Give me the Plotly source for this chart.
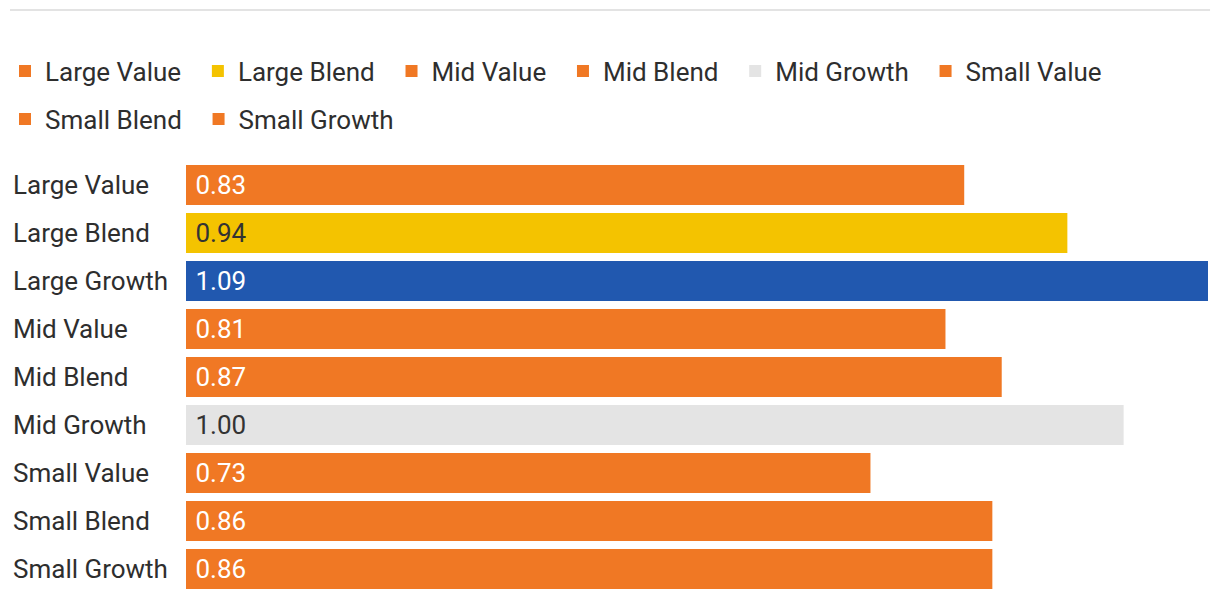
import plotly.graph_objects as go

categories = ["Large Value", "Large Blend", "Large Growth", "Mid Value", "Mid Blend",
              "Mid Growth", "Small Value", "Small Blend", "Small Growth"]
values = [0.83, 0.94, 1.09, 0.81, 0.87, 1.00, 0.73, 0.86, 0.86]
bar_colors = ["#F07824", "#F4C300", "#2158AF", "#F07824", "#F07824",
              "#E4E4E4", "#F07824", "#F07824", "#F07824"]
text_colors = ["#FFFFFF", "#333333", "#FFFFFF", "#FFFFFF", "#FFFFFF",
               "#333333", "#FFFFFF", "#FFFFFF", "#FFFFFF"]
# which legend row each entry sits in (None = not shown in legend)
legend_rows = ["legend", "legend", None, "legend", "legend",
               "legend", "legend", "legend2", "legend2"]

FONT = "Roboto, sans-serif"
FS = 26
TXT = "#2E2E2E"
PAD = "\u00a0\u2009"  # spacing after each legend entry

fig = go.Figure()
for cat, val, col, tcol, leg in zip(categories, values, bar_colors, text_colors, legend_rows):
    fig.add_trace(go.Bar(
        x=[val], y=[cat], name=cat + PAD, orientation="h",
        marker=dict(color=col, line=dict(width=0)),
        text=[f"\u00a0{val:.2f}"], textposition="inside", insidetextanchor="start",
        constraintext="none",
        textfont=dict(family=FONT, size=FS, color=tcol),
        showlegend=leg is not None, legend=leg or "legend", hoverinfo="skip",
    ))

for cat in categories:
    fig.add_annotation(x=-0.1712, xref="paper", y=cat, yref="y", text=cat,
                       xanchor="left", yanchor="middle", showarrow=False,
                       font=dict(family=FONT, size=FS, color=TXT))

fig.add_shape(type="line", xref="paper", yref="paper",
              x0=-0.1722, x1=1.002, y0=1.3495, y1=1.3495,
              line=dict(color="#E3E3E3", width=2))

W, H = 1212, 592
leg_common = dict(orientation="h", xref="paper", yref="paper",
                  xanchor="left", yanchor="middle",
                  font=dict(family=FONT, size=FS, color=TXT),
                  traceorder="normal", itemclick=False, itemdoubleclick=False,
                  bgcolor="rgba(0,0,0,0)")

fig.update_layout(
    width=W, height=H,
    margin=dict(l=178, r=12, t=153, b=7, autoexpand=False),
    paper_bgcolor="white", plot_bgcolor="white",
    barmode="overlay", bargap=0.1667,
    font=dict(family=FONT, size=FS, color=TXT),
    showlegend=True,
    legend=dict(x=-0.1771, y=1.2083, **leg_common),
    legend2=dict(x=-0.1771, y=1.0972, **leg_common),
    xaxis=dict(range=[0, 1.09], visible=False, showgrid=False, zeroline=False),
    yaxis=dict(categoryorder="array", categoryarray=categories,
               range=[8.5, -0.5], showticklabels=False, showgrid=False,
               zeroline=False, ticks=""),
)

fig.write_html("out.html")
